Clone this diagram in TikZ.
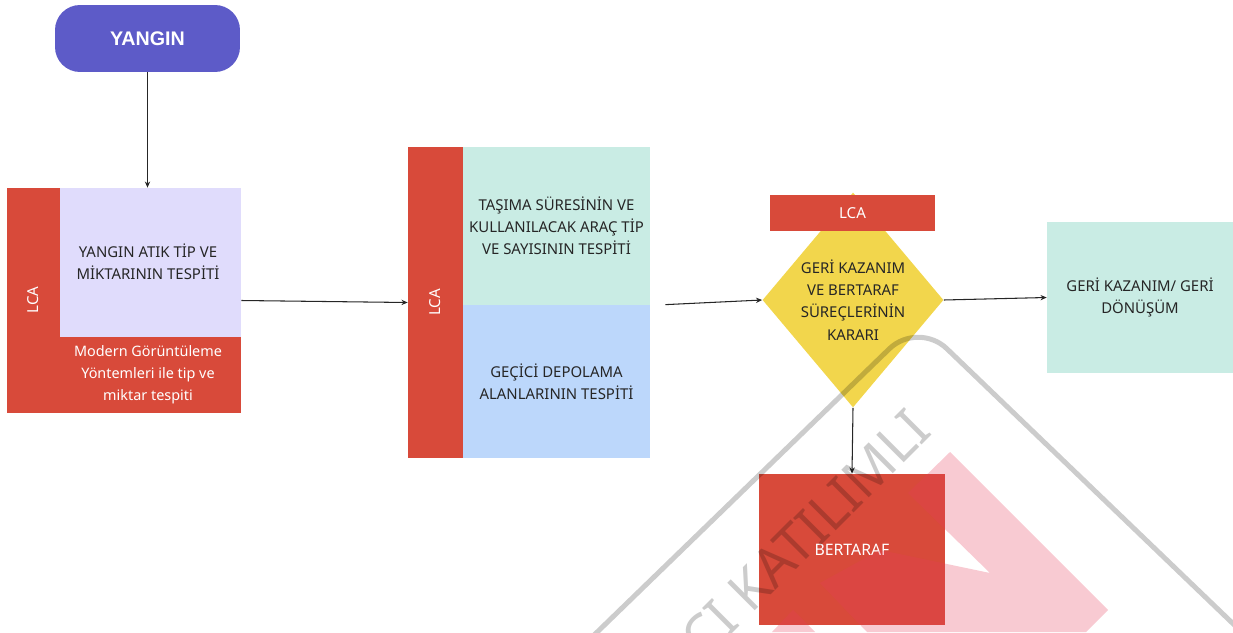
\documentclass[tikz,border=0pt]{standalone}
\usepackage{fontspec}
\setmainfont{Noto Sans}
\newfontfamily\titlefont{Liberation Sans}
\usepackage{xcolor}
\usetikzlibrary{positioning,arrows.meta,fit,shapes.geometric}
\definecolor{lcared}{HTML}{D84A3A}
\definecolor{startpurple}{HTML}{5D5BC8}
\definecolor{lilac}{HTML}{E0DCFC}
\definecolor{mint}{HTML}{C9ECE4}
\definecolor{paleblue}{HTML}{BCD7FB}
\definecolor{decision}{HTML}{F2D64C}
\definecolor{ink}{HTML}{262626}
\definecolor{markpink}{RGB}{230,60,90}
\tikzset{
  area/.style={inner sep=0pt,align=center,font=\fontsize{8.5}{12.6}\selectfont,text=ink},
  lca/.style={area,fill=lcared,text=white},
  lcalabel/.style={text=white,font=\fontsize{8.6}{10}\selectfont,inner sep=0pt},
  flow/.style={-{Stealth[length=3.5pt,width=3pt]},line width=0.6pt,draw=black!85},
}
\begin{document}
\begin{tikzpicture}[x=0.02cm,y=-0.02cm]
  \useasboundingbox (0,0) rectangle (1233,632);
  % start
  \node[fill=startpurple,rounded corners=0.5cm,minimum width=3.7cm,minimum height=1.34cm,
        text=white,font=\titlefont\bfseries\fontsize{11.2}{13}\selectfont] (yangin) at (147.5,38.5) {YANGIN};
  % first block: red L with lilac box
  \node[lca,fit={(7,188) (241,413)}] (blok1) {};
  \node[area,fill=lilac,fit={(60,188) (241,337)}] (atik) {};
  \node[area] (atiktext) at (148,262) {YANGIN ATIK TİP VE\\MİKTARININ TESPİTİ};
  \node[area,text=white,font=\fontsize{8.2}{12.6}\selectfont] (modern) at (148,375) {Modern Görüntüleme\\Yöntemleri ile tip ve\\miktar tespiti};
  \node[lcalabel,rotate=90] (lca1) at (33,300) {LCA};
  % second block
  \node[lca,fit={(408,147) (463,458)}] (blok2) {};
  \node[lcalabel,rotate=90] (lca2) at (blok2.center) {LCA};
  \node[area,fill=mint,fit={(463,147) (650,305)}] (tasima) {};
  \node[area] (tasimatext) at (tasima.center) {TAŞIMA SÜRESİNİN VE\\KULLANILACAK ARAÇ TİP\\VE SAYISININ TESPİTİ};
  \node[area,fill=paleblue,fit={(463,305) (650,458)}] (depo) {};
  \node[area] (depotext) at (depo.center) {GEÇİCİ DEPOLAMA\\ALANLARININ TESPİTİ};
  % decision
  \node[shape=diamond,fill=decision,minimum width=3.62cm,minimum height=4.3cm,inner sep=0pt] (karar) at (853,300) {};
  \node[area] (karartext) at (karar.center) {GERİ KAZANIM\\VE BERTARAF\\SÜREÇLERİNİN\\KARARI};
  \node[lca,fit={(770,195) (935,231)}] (lca3) {};
  \node[lcalabel] at (lca3.center) {LCA};
  % results
  \node[area,fill=mint,fit={(1047,222) (1233,373)}] (geri) {};
  \node[area] (geritext) at (geri.center) {GERİ KAZANIM/ GERİ\\DÖNÜŞÜM};
  \node[lca,fit={(759,474) (945,625)}] (bertaraf) {};
  \node[lcalabel,font=\fontsize{9}{11}\selectfont] at (bertaraf.center) {BERTARAF};
  % arrows
  \draw[flow] (yangin) -- (yangin.south |- atik.north);
  \draw[flow] (blok1.east) -- (blok2.west);
  \draw[flow,shorten <=0.3cm] (tasima.south east) -- (karar.west);
  \draw[flow] (karar.east) -- (geri.west);
  \draw[flow] (karar.south) -- (bertaraf.north);
  % watermark
  \begin{scope}
    \clip (0,0) rectangle (1233,632);
    \draw[black,opacity=0.2,line width=0.1cm,rounded corners=0.8cm] (589,640) -- (918,321) -- (1250,640);
    \fill[markpink,opacity=0.27] (950,452) -- (1108,610) -- (1086,632) -- (867,632) -- (820,583)
      -- (880,550) -- (990,573) -- (908,493) -- cycle;
    \fill[markpink,opacity=0.27] (772,632) -- (793,610) -- (815,632) -- cycle;
    \node[rotate=45,text=black,text opacity=0.2,font=\fontsize{31}{31}\selectfont] (mark) at (829,510) {\llap{CI }KATILIMLI};
  \end{scope}
\end{tikzpicture}
\end{document}
